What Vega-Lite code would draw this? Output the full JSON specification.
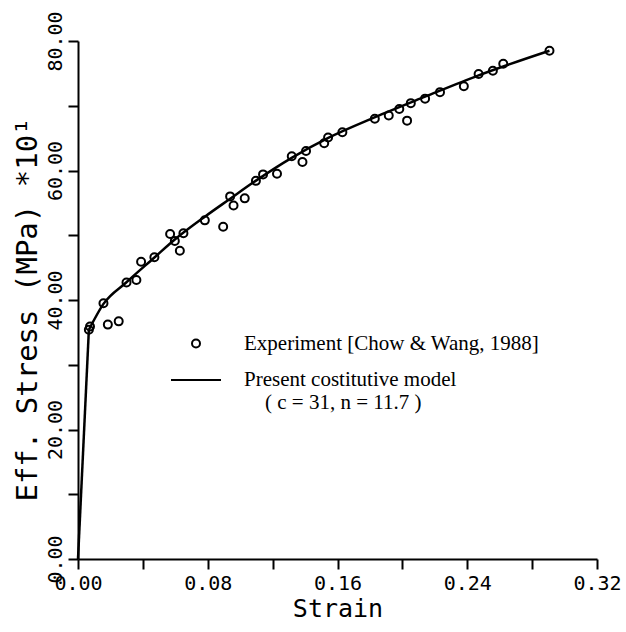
{
  "$schema": "https://vega.github.io/schema/vega-lite/v6.json",
  "width": 519,
  "height": 518,
  "autosize": {"type": "none"},
  "padding": {"left": 78, "top": 41, "right": 29, "bottom": 73},
  "background": "white",
  "config": {
    "view": {"stroke": null},
    "axis": {
      "grid": false,
      "domainColor": "black",
      "domainWidth": 2,
      "tickColor": "black",
      "tickWidth": 2,
      "tickSize": 10,
      "labelColor": "black",
      "labelFont": "DejaVu Sans Mono",
      "labelFontSize": 20,
      "labelFlush": false,
      "labelOverlap": false,
      "titleColor": "black",
      "titleFont": "DejaVu Sans Mono",
      "titleFontWeight": "normal"
    },
    "legend": {
      "title": null,
      "orient": "none",
      "legendX": 92,
      "legendY": 292,
      "symbolStrokeColor": "black",
      "symbolFillColor": "transparent",
      "symbolStrokeWidth": 2,
      "symbolOpacity": 1,
      "labelFont": "Liberation Serif",
      "labelFontSize": 21,
      "labelColor": "black",
      "labelLimit": 500,
      "labelOffset": 22,
      "rowPadding": 0
    }
  },
  "datasets": {
    "exp": [
      {"strain": 0.0067, "stress": 35.4, "series": "Experiment [Chow & Wang, 1988]"},
      {"strain": 0.0074, "stress": 35.9, "series": "Experiment [Chow & Wang, 1988]"},
      {"strain": 0.0157, "stress": 39.5, "series": "Experiment [Chow & Wang, 1988]"},
      {"strain": 0.0184, "stress": 36.2, "series": "Experiment [Chow & Wang, 1988]"},
      {"strain": 0.0251, "stress": 36.7, "series": "Experiment [Chow & Wang, 1988]"},
      {"strain": 0.0299, "stress": 42.7, "series": "Experiment [Chow & Wang, 1988]"},
      {"strain": 0.036, "stress": 43.1, "series": "Experiment [Chow & Wang, 1988]"},
      {"strain": 0.0389, "stress": 45.9, "series": "Experiment [Chow & Wang, 1988]"},
      {"strain": 0.0471, "stress": 46.6, "series": "Experiment [Chow & Wang, 1988]"},
      {"strain": 0.0568, "stress": 50.2, "series": "Experiment [Chow & Wang, 1988]"},
      {"strain": 0.0597, "stress": 49.1, "series": "Experiment [Chow & Wang, 1988]"},
      {"strain": 0.065, "stress": 50.3, "series": "Experiment [Chow & Wang, 1988]"},
      {"strain": 0.0628, "stress": 47.6, "series": "Experiment [Chow & Wang, 1988]"},
      {"strain": 0.0782, "stress": 52.3, "series": "Experiment [Chow & Wang, 1988]"},
      {"strain": 0.0895, "stress": 51.3, "series": "Experiment [Chow & Wang, 1988]"},
      {"strain": 0.0938, "stress": 56.0, "series": "Experiment [Chow & Wang, 1988]"},
      {"strain": 0.0959, "stress": 54.6, "series": "Experiment [Chow & Wang, 1988]"},
      {"strain": 0.1028, "stress": 55.7, "series": "Experiment [Chow & Wang, 1988]"},
      {"strain": 0.1097, "stress": 58.4, "series": "Experiment [Chow & Wang, 1988]"},
      {"strain": 0.1141, "stress": 59.4, "series": "Experiment [Chow & Wang, 1988]"},
      {"strain": 0.1227, "stress": 59.5, "series": "Experiment [Chow & Wang, 1988]"},
      {"strain": 0.1318, "stress": 62.2, "series": "Experiment [Chow & Wang, 1988]"},
      {"strain": 0.1384, "stress": 61.3, "series": "Experiment [Chow & Wang, 1988]"},
      {"strain": 0.1406, "stress": 63.0, "series": "Experiment [Chow & Wang, 1988]"},
      {"strain": 0.1518, "stress": 64.2, "series": "Experiment [Chow & Wang, 1988]"},
      {"strain": 0.1542, "stress": 65.1, "series": "Experiment [Chow & Wang, 1988]"},
      {"strain": 0.163, "stress": 65.9, "series": "Experiment [Chow & Wang, 1988]"},
      {"strain": 0.183, "stress": 68.0, "series": "Experiment [Chow & Wang, 1988]"},
      {"strain": 0.1916, "stress": 68.5, "series": "Experiment [Chow & Wang, 1988]"},
      {"strain": 0.1981, "stress": 69.5, "series": "Experiment [Chow & Wang, 1988]"},
      {"strain": 0.2029, "stress": 67.7, "series": "Experiment [Chow & Wang, 1988]"},
      {"strain": 0.2052, "stress": 70.4, "series": "Experiment [Chow & Wang, 1988]"},
      {"strain": 0.214, "stress": 71.1, "series": "Experiment [Chow & Wang, 1988]"},
      {"strain": 0.2232, "stress": 72.1, "series": "Experiment [Chow & Wang, 1988]"},
      {"strain": 0.2379, "stress": 73.0, "series": "Experiment [Chow & Wang, 1988]"},
      {"strain": 0.247, "stress": 74.9, "series": "Experiment [Chow & Wang, 1988]"},
      {"strain": 0.2558, "stress": 75.4, "series": "Experiment [Chow & Wang, 1988]"},
      {"strain": 0.2622, "stress": 76.5, "series": "Experiment [Chow & Wang, 1988]"},
      {"strain": 0.2907, "stress": 78.5, "series": "Experiment [Chow & Wang, 1988]"}
    ],
    "elastic": [
      {"strain": 0.0, "stress": 0.0},
      {"strain": 0.0067, "stress": 35.4}
    ],
    "plastic": [
      {"strain": 0.0067, "stress": 35.4},
      {"strain": 0.0157, "stress": 39.4},
      {"strain": 0.0297, "stress": 42.7},
      {"strain": 0.0473, "stress": 46.6},
      {"strain": 0.0595, "stress": 49.3},
      {"strain": 0.0784, "stress": 52.9},
      {"strain": 0.0936, "stress": 55.6},
      {"strain": 0.1095, "stress": 58.4},
      {"strain": 0.132, "stress": 62.0},
      {"strain": 0.154, "stress": 65.0},
      {"strain": 0.1828, "stress": 68.2},
      {"strain": 0.214, "stress": 71.4},
      {"strain": 0.247, "stress": 74.7},
      {"strain": 0.2907, "stress": 78.5}
    ]
  },
  "encoding": {
    "x": {
      "field": "strain",
      "type": "quantitative",
      "scale": {"domain": [0, 0.32], "nice": false, "zero": false},
      "axis": {
        "values": [0, 0.04, 0.08, 0.12, 0.16, 0.2, 0.24, 0.28, 0.32],
        "labelExpr": "round(datum.value * 100) % 8 == 0 ? format(datum.value, '.2f') : ''",
        "labelPadding": 4,
        "title": "Strain",
        "titleFontSize": 25,
        "titlePadding": 3
      }
    },
    "y": {
      "field": "stress",
      "type": "quantitative",
      "scale": {"domain": [0, 80], "nice": false},
      "axis": {
        "values": [0, 10, 20, 30, 40, 50, 60, 70, 80],
        "labelExpr": "datum.value % 20 == 0 ? format(datum.value, '.2f') : ''",
        "labelAngle": -90,
        "labelAlign": "center",
        "labelBaseline": "bottom",
        "labelPadding": 3,
        "title": "Eff. Stress (MPa)   *10¹",
        "titleFontSize": 29,
        "titlePadding": 3,
        "titleY": 268
      }
    }
  },
  "layer": [
    {
      "data": {"name": "elastic"},
      "mark": {"type": "line", "color": "black", "strokeWidth": 2.5}
    },
    {
      "data": {"name": "plastic"},
      "mark": {"type": "line", "color": "black", "strokeWidth": 2.5, "interpolate": "monotone"}
    },
    {
      "data": {"name": "exp"},
      "mark": {"type": "point", "filled": false, "color": "black", "strokeWidth": 2, "opacity": 1},
      "encoding": {
        "shape": {
          "field": "series",
          "type": "nominal",
          "scale": {
            "domain": ["Experiment [Chow & Wang, 1988]", "Present costitutive model"],
            "range": ["circle", "stroke"]
          },
          "legend": {
            "labelExpr": "datum.value == 'Present costitutive model' ? ['Present costitutive model', '\u200b\u2002\u2002( c = 31, n = 11.7 )'] : datum.label"
          }
        },
        "size": {
          "field": "series",
          "type": "nominal",
          "scale": {
            "domain": ["Experiment [Chow & Wang, 1988]", "Present costitutive model"],
            "range": [64, 2500]
          },
          "legend": {
            "labelExpr": "datum.value == 'Present costitutive model' ? ['Present costitutive model', '\u200b\u2002\u2002( c = 31, n = 11.7 )'] : datum.label"
          }
        }
      }
    }
  ]
}
